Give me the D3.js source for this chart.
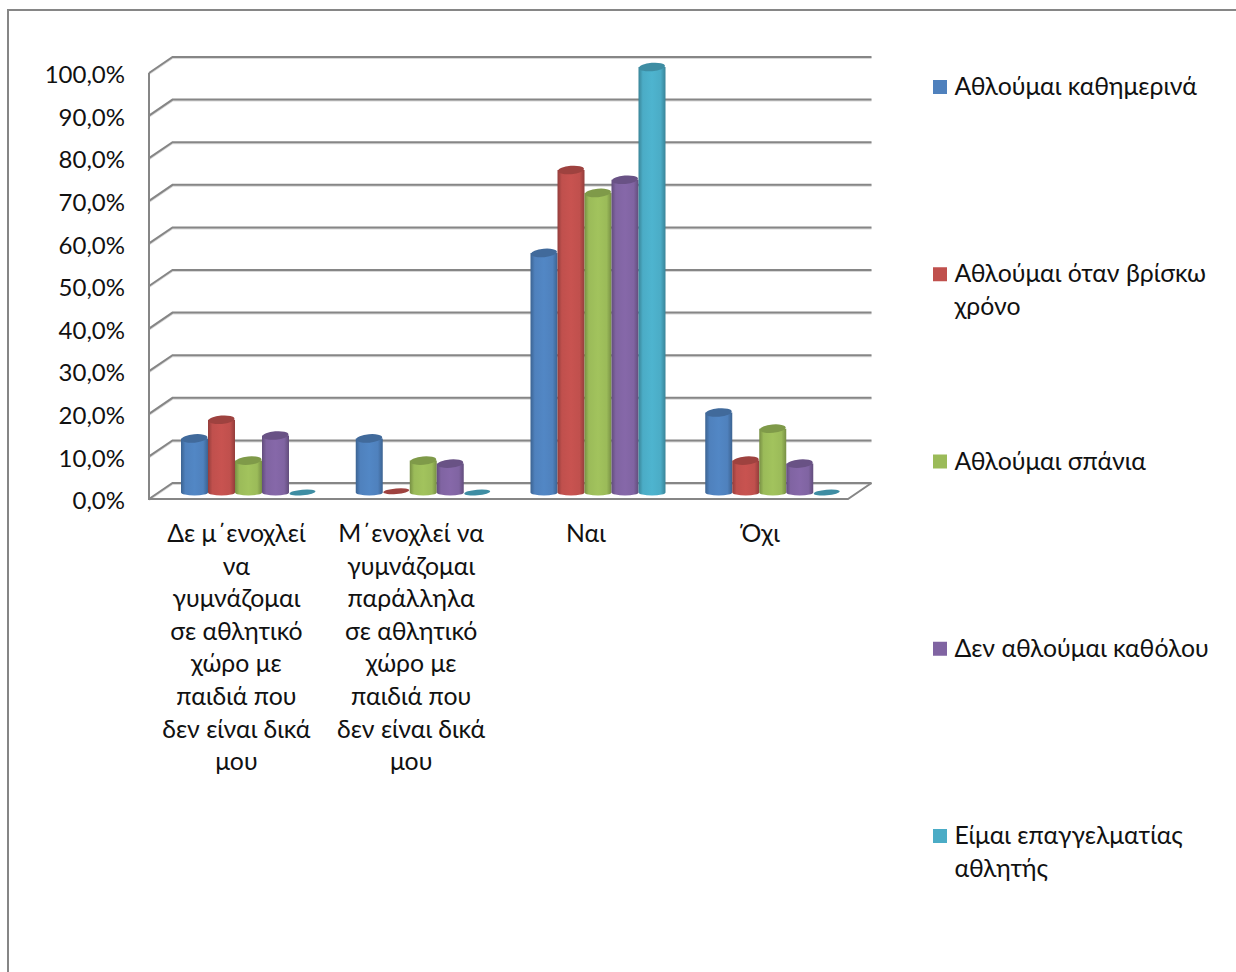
<!DOCTYPE html>
<html><head><meta charset="utf-8">
<script src="https://cdn.jsdelivr.net/npm/d3@7"></script>
<style>html,body{margin:0;padding:0;background:#fff;overflow:hidden}svg{display:block}text{font-family:Lato,"Open Sans","Noto Sans",sans-serif;fill:#111}</style>
</head><body><div id="c"></div>
<script>
const categories=["c1","c2","c3","c4"];
const categoryLines=[
["Δε μ΄ενοχλεί","να","γυμνάζομαι","σε αθλητικό","χώρο με","παιδιά που","δεν είναι δικά","μου"],
["Μ΄ενοχλεί να","γυμνάζομαι","παράλληλα","σε αθλητικό","χώρο με","παιδιά που","δεν είναι δικά","μου"],
["Ναι"],
["Όχι"]];
const seriesNames=["s1","s2","s3","s4","s5"];
const legendLines=[["Αθλούμαι καθημερινά"],["Αθλούμαι όταν βρίσκω","χρόνο"],["Αθλούμαι σπάνια"],["Δεν αθλούμαι καθόλου"],["Είμαι επαγγελματίας","αθλητής"]];
const daily=[12.7,12.7,56.3,18.8];
const whenTime=[17.1,0.3,75.8,7.5];
const rarely=[7.5,7.5,70.4,15.0];
const never=[13.4,6.8,73.5,6.8];
const pro=[0,0,100,0];
const seriesValues=[daily,whenTime,rarely,never,pro];
const colors=["#4f81bd","#c0504d","#9bbb59","#8064a2","#4bacc6"];
const ticks=d3.range(0,101,10);

const W=1236,H=972,FS="24px",FS2="24.8px";
const svg=d3.select("#c").append("svg").attr("width",W).attr("height",H);
const defs=svg.append("defs");
colors.forEach((c,i)=>{
  const g=defs.append("linearGradient").attr("id","g"+i);
  const dark=d3.color(c).darker(0.75), mid=d3.color(c).brighter(0.12);
  [[0,dark],[0.16,d3.color(c)],[0.5,mid],[0.82,d3.color(c)],[1,dark]].forEach(([o,k])=>g.append("stop").attr("offset",o).attr("stop-color",k));
});

svg.append("path").attr("d","M8,972V10H1236").attr("fill","none").attr("stroke","#868686").attr("stroke-width",2);

const yFront=d3.scaleLinear().domain([0,100]).range([499,73]);
const depthX=23.5, depthY=16;
const x0=149,x1=848;
const gridCol="#868686";
const wall=svg.append("g").attr("fill","none");
ticks.forEach(t=>{
  const y=yFront(t);
  wall.append("path").attr("d",`M${x0},${y+1}L${x0+depthX},${y-depthY+1}H${x1+depthX}`).attr("stroke","#d9d9d9").attr("stroke-width",2);
});
ticks.forEach(t=>{
  const y=yFront(t);
  wall.append("path").attr("d",`M${x0},${y}L${x0+depthX},${y-depthY}H${x1+depthX}`).attr("stroke",gridCol).attr("stroke-width",2);
});
wall.append("path").attr("d",`M${x0},${yFront(100)}V${yFront(0)}H${x1}L${x1+depthX},${yFront(0)-depthY}`).attr("stroke",gridCol).attr("stroke-width",2);

const yAxis=d3.axisLeft(yFront).tickValues(ticks).tickSize(0).tickPadding(24).tickFormat(d=>d3.format(".1f")(d).replace(".",",")+"%");
const ax=svg.append("g").attr("transform",`translate(${x0},0)`).call(yAxis);
ax.select(".domain").remove();
ax.selectAll("text").style("font-size",FS).attr("fill","#111").attr("dy","0.4em");

const xGroup=d3.scaleBand().domain(categories).range([x0+12,x1+12]);
const xBar=d3.scaleBand().domain(seriesNames).range([20,155]);
const yBar=d3.scaleLinear().domain([0,100]).range([492.5,67]);
const rx=xBar.bandwidth()/2, ry=4.2;
const barsG=svg.append("g");
categories.forEach((c,ci)=>{
  seriesNames.forEach((s,si)=>{
    const v=seriesValues[si][ci];
    const cx=xGroup(c)+xBar(s)+rx, yt=yBar(v), yb=yBar(0);
    const top=d3.color(colors[si]).darker(0.55);
    if(v>0.5){
      barsG.append("path")
        .attr("d",`M${cx-rx},${yt}V${yb}A${rx},3 0 0 0 ${cx+rx},${yb}V${yt}Z`)
        .attr("fill",`url(#g${si})`);
    }
    barsG.append("ellipse").attr("cx",cx).attr("cy",yt).attr("rx",rx-0.5).attr("ry",v>0.5?ry:2.8)
      .attr("transform",`rotate(-5 ${cx} ${yt})`).attr("fill",top);
  });
});

const lh=32.6;
categories.forEach((c,i)=>{
  const cx=xGroup(c)+xGroup.bandwidth()/2-12;
  const t=svg.append("text").attr("text-anchor","middle").style("font-size",FS2);
  categoryLines[i].forEach((l,j)=>t.append("tspan").attr("x",cx).attr("y",542+j*lh).text(l));
});

const legendY=d3.scalePoint().domain(seriesNames).range([87,836]);
seriesNames.forEach((s,i)=>{
  const y=legendY(s);
  svg.append("rect").attr("x",933).attr("y",y-7).attr("width",14).attr("height",14).attr("fill",colors[i]);
  const t=svg.append("text").style("font-size",FS2);
  legendLines[i].forEach((l,j)=>t.append("tspan").attr("x",954.5).attr("y",y+8+j*lh).text(l));
});
</script></body></html>
